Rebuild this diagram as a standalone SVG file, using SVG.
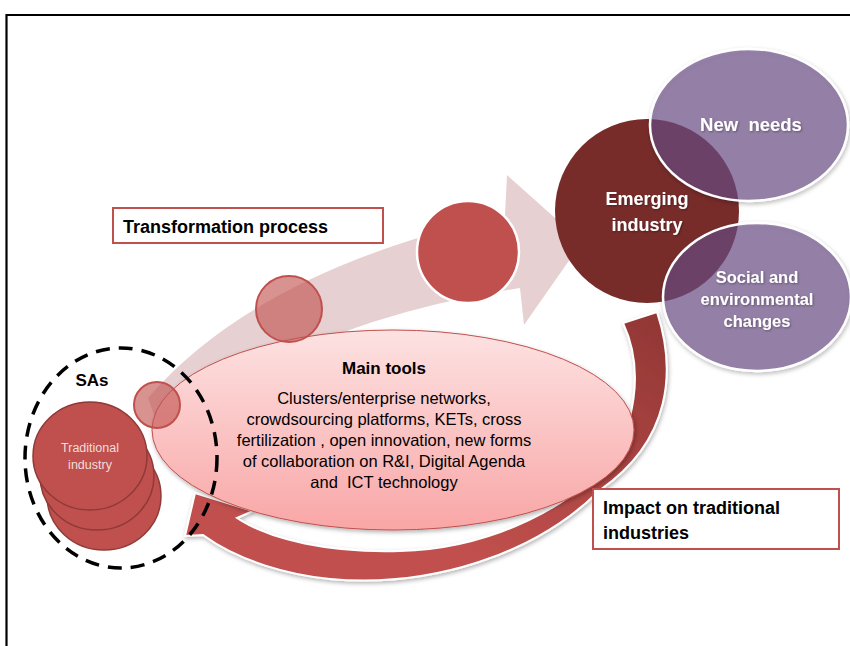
<svg xmlns="http://www.w3.org/2000/svg" width="850" height="646" viewBox="0 0 850 646">
<defs>
<linearGradient id="gTools" x1="0" y1="0" x2="0" y2="1">
<stop offset="0" stop-color="#FDE2E2"/>
<stop offset="1" stop-color="#F9A6A6"/>
</linearGradient>
<linearGradient id="gBand" gradientUnits="userSpaceOnUse" x1="660" y1="330" x2="500" y2="570">
<stop offset="0" stop-color="#943836"/>
<stop offset="0.6" stop-color="#B04744"/>
<stop offset="1" stop-color="#C0504D"/>
</linearGradient>
<filter id="sh" x="-10%" y="-10%" width="130%" height="130%">
<feDropShadow dx="1" dy="2" stdDeviation="2" flood-color="#000" flood-opacity="0.3"/>
</filter>
<filter id="tsh" x="-10%" y="-10%" width="130%" height="140%">
<feDropShadow dx="1" dy="1" stdDeviation="1" flood-color="#000" flood-opacity="0.35"/>
</filter>
</defs>
<style>
.lbl{font-family:"Liberation Sans",Arial,sans-serif;}
.b{font-weight:bold;}
.w{fill:#FFFFFF;}
.k{fill:#000000;}
.box{fill:#FFFFFF;stroke:#C0504D;stroke-width:2;}
.trad{fill:#C0504D;stroke:#8E3A38;stroke-width:1.5;}
.ghost{fill:#C0504D;fill-opacity:0.62;stroke:#C0504D;stroke-width:2;}
.purple{fill:#6B4E86;fill-opacity:0.63;stroke:#FFFFFF;stroke-width:2.5;}
</style>

<path d="M6.5 646 V15 H850" fill="none" stroke="#000" stroke-width="2.2"/>

<g id="connectors">
<path id="transformation-arrow" d="M148 398 Q258 270 505 215 L507 175 L582 242 L524 325 L520 288 Q300 322 160 432 Z" fill="#E6D0D1"/>
<path id="impact-arrow" filter="url(#sh)" d="M657 312 C676 370 672 440 600 490 C535 555 430 588 330 579 C290 575 240 562 203 535 L185 536 L195 493 L253 511 L237 518 C270 540 330 553 400 551 C480 549 560 515 605 465 C635 430 645 370 623 323 Z" fill="url(#gBand)" stroke="#FFFFFF" stroke-width="2"/>
</g>

<g id="main-tools">
<ellipse cx="393" cy="430" rx="241" ry="100" fill="url(#gTools)" stroke="#C0504D" stroke-width="1" filter="url(#sh)"/>
<text class="lbl b k" x="384" y="374" font-size="17" text-anchor="middle">Main tools</text>
<g class="lbl k" font-size="16.5" text-anchor="middle">
<text x="384" y="404">Clusters/enterprise networks,</text>
<text x="384" y="425">crowdsourcing platforms, KETs, cross</text>
<text x="384" y="446" style="white-space:pre">fertilization , open innovation, new forms</text>
<text x="384" y="467">of collaboration on R&amp;I, Digital Agenda</text>
<text x="384" y="488" style="white-space:pre">and  ICT technology</text>
</g>
</g>

<g id="traditional-industry">
<ellipse class="trad" cx="104" cy="496" rx="57" ry="54"/>
<ellipse class="trad" cx="97" cy="476" rx="57" ry="54"/>
<ellipse class="trad" cx="90" cy="456" rx="57" ry="54"/>
<text class="lbl" x="90" y="452" font-size="12.5" fill="#F2DCDB" text-anchor="middle">Traditional</text>
<text class="lbl" x="90" y="469" font-size="12.5" fill="#F2DCDB" text-anchor="middle">industry</text>
</g>

<g id="step-circles">
<circle class="ghost" cx="157" cy="405" r="23"/>
<circle class="ghost" cx="289" cy="309" r="33"/>
<circle cx="468" cy="252" r="51" fill="#C0504D" stroke="#FFFFFF" stroke-width="2.5"/>
</g>

<g id="sas">
<ellipse cx="121" cy="458" rx="96" ry="110" fill="none" stroke="#000" stroke-width="3.5" stroke-dasharray="14 9"/>
<text class="lbl b k" x="92" y="386" font-size="17" text-anchor="middle">SAs</text>
</g>

<g id="emerging-industry">
<circle cx="647" cy="211" r="92" fill="#772C2A"/>
<g filter="url(#tsh)">
<text class="lbl b w" x="647" y="205" font-size="18" text-anchor="middle">Emerging</text>
<text class="lbl b w" x="647" y="231" font-size="18" text-anchor="middle">industry</text>
</g>
</g>

<g id="new-needs">
<ellipse class="purple" cx="749" cy="125" rx="99" ry="76" filter="url(#sh)"/>
<text class="lbl b w" x="751" y="131" font-size="18.5" text-anchor="middle" style="white-space:pre" filter="url(#tsh)">New  needs</text>
</g>

<g id="social-environmental">
<ellipse class="purple" cx="757" cy="297" rx="94" ry="74" filter="url(#sh)"/>
<g filter="url(#tsh)">
<text class="lbl b w" x="757" y="283" font-size="16.5" text-anchor="middle">Social and</text>
<text class="lbl b w" x="757" y="305" font-size="16.5" text-anchor="middle">environmental</text>
<text class="lbl b w" x="757" y="327" font-size="16.5" text-anchor="middle">changes</text>
</g>
</g>

<g id="transformation-process">
<rect class="box" x="113" y="208" width="270" height="35"/>
<text class="lbl b k" x="123" y="233" font-size="18">Transformation process</text>
</g>

<g id="impact">
<rect class="box" x="593" y="489" width="246" height="60"/>
<text class="lbl b k" x="603" y="514" font-size="18">Impact on traditional</text>
<text class="lbl b k" x="603" y="539" font-size="18">industries</text>
</g>
</svg>
